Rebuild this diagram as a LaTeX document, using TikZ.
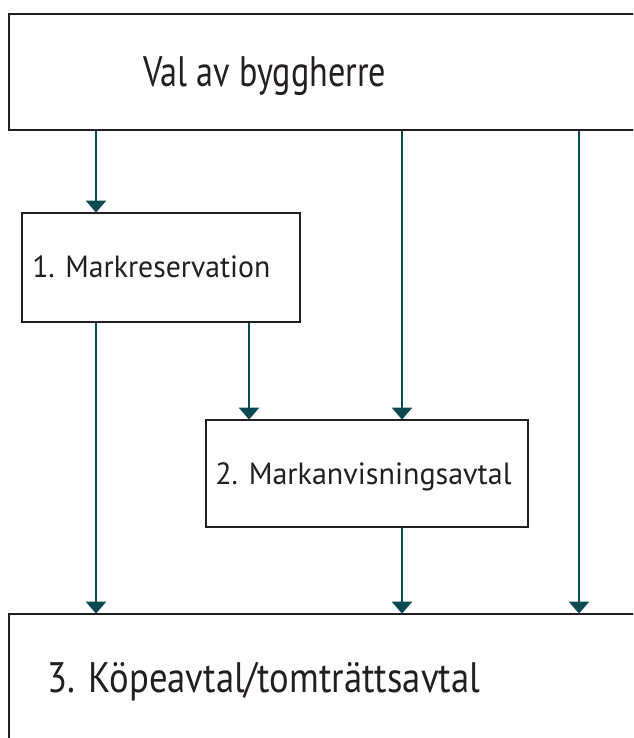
\documentclass[tikz,border=0pt]{standalone}
\usepackage{fontspec}
\setmainfont{PT Sans}
\usetikzlibrary{arrows.meta}
\definecolor{teal}{HTML}{0B4A52}
\definecolor{ink}{HTML}{231F20}
\tikzset{
  boxst/.style={draw=ink, line width=1.6pt, rectangle, inner sep=0pt, fill=white},
  lbl/.style={text=ink, inner sep=0pt, anchor=base},
  arr/.style={draw=teal, line width=2pt, -{Triangle[width=15pt,length=9pt]}, shorten >=-0.5pt},
}
\begin{document}
\begin{tikzpicture}[x=0.75pt, y=-0.75pt]
\useasboundingbox (0,0) rectangle (633,738);
\clip (0,0) rectangle (633,738);
\fill[white] (0,0) rectangle (633,738);
% boxes
\node[boxst, minimum width=691*0.75pt, minimum height=116*0.75pt] (top) at (354.5,72) {};
\node[boxst, minimum width=278*0.75pt, minimum height=109*0.75pt] (b1) at (161,267.5) {};
\node[boxst, minimum width=322*0.75pt, minimum height=107*0.75pt] (b2) at (367,473.5) {};
\node[boxst, minimum width=691*0.75pt, minimum height=200*0.75pt] (bot) at (354.5,714) {};
% texts
\node[lbl, font=\fontsize{32pt}{36pt}\selectfont] (ttop) at (264.5,87) {\scalebox{0.8}[1]{Val av byggherre}};
\node[lbl, font=\fontsize{23pt}{26pt}\selectfont, anchor=base west] (t1) at (32,277) {\scalebox{0.97}[1]{1. Markreservation}};
\node[lbl, font=\fontsize{23pt}{26pt}\selectfont, anchor=base west] (t2) at (215,484) {\scalebox{0.98}[1]{2. Markanvisningsavtal}};
\node[lbl, font=\fontsize{32pt}{36pt}\selectfont] (tbot) at (264,692) {\scalebox{0.86}[1]{3. Köpeavtal/tomträttsavtal}};
% columns
\coordinate (xa) at (96,0);
\coordinate (xb) at (249,0);
\coordinate (xc) at (402,0);
\coordinate (xd) at (579,0);
% arrows
\draw[arr] (xa |- top.south) -- (xa |- b1.north);
\draw[arr] (xa |- b1.south) -- (xa |- bot.north);
\draw[arr] (xb |- b1.south) -- (xb |- b2.north);
\draw[arr] (xc |- top.south) -- (xc |- b2.north);
\draw[arr] (xc |- b2.south) -- (xc |- bot.north);
\draw[arr] (xd |- top.south) -- (xd |- bot.north);
\end{tikzpicture}
\end{document}
